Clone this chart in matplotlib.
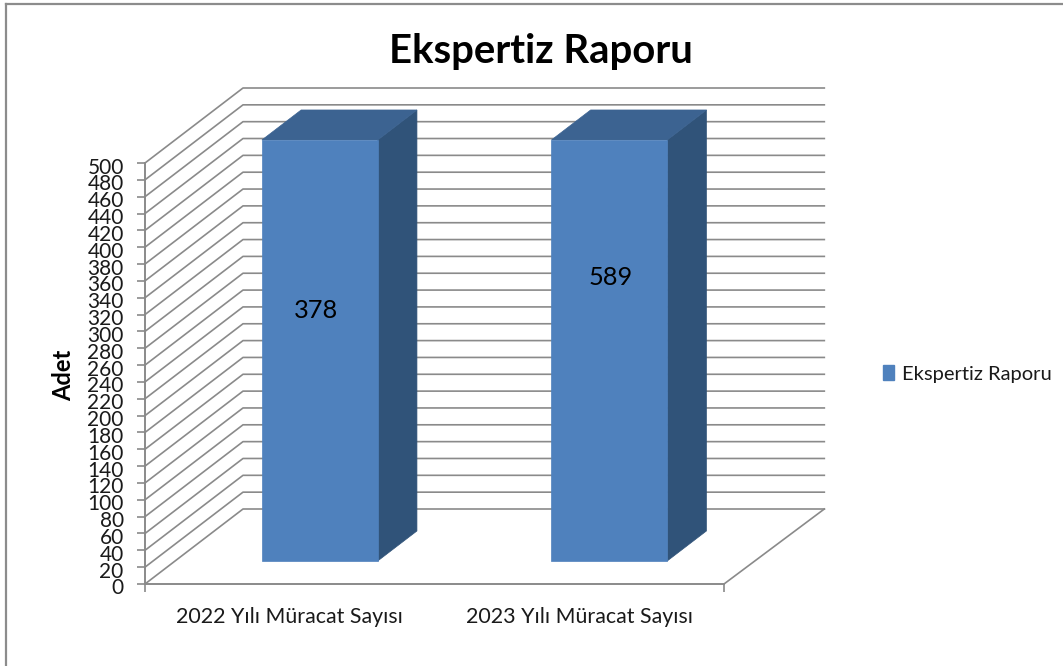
import matplotlib
matplotlib.use('Agg')
import matplotlib.pyplot as plt
from matplotlib.lines import Line2D
from matplotlib.patches import Patch
from matplotlib.transforms import ScaledTranslation

plt.rcParams['font.family'] = ['Lato', 'DejaVu Sans']

categories = ['2022 Yılı Müracat Sayısı', '2023 Yılı Müracat Sayısı']
values = [378, 589]
# both bars are drawn up to the top of the axis in the picture, whatever their label says
bar_heights = [500, 500]
series_name = 'Ekspertiz Raporu'
y_ticks = list(range(0, 501, 20))
y_max = 500

# layout in pixels
W, H = 1063, 666
left, right, top, bottom = 145, 724, 163, 584
grid_color = '#8a8a8a'
front_color = '#4f81bd'
side_color = '#305379'
top_color = '#3c6391'
text_color = '#1a1a1a'

fig = plt.figure(figsize=(W / 100, H / 100), dpi=100)
ax = fig.add_axes([left / W, 1 - bottom / H, (right - left) / W, (bottom - top) / H])
ax.set_xlim(0, len(categories))
ax.set_ylim(0, y_max)
ax.patch.set_alpha(0)

# depth of the 3d box, converted to data units
depth_x = 98 / ((right - left) / len(categories))
depth_y = 75 / ((bottom - top) / y_max)


def proj(x, v, d):
    return x + d * depth_x, v + d * depth_y


# walls, the back wall runs a bit longer than the front edge
xmax = len(categories)
back_end = xmax + 0.008
for v in y_ticks:
    x0, y0 = proj(0, v, 0)
    x1, y1 = proj(0, v, 1)
    x2, y2 = proj(back_end, v, 1)
    ax.plot([x0, x1, x2], [y0, y1, y2], color=grid_color, lw=1.2, clip_on=False, zorder=1)
x0, y0 = proj(xmax, 0, 0)
x1, y1 = proj(back_end, 0, 1)
ax.plot([x0, x1], [y0, y1], color=grid_color, lw=1.2, clip_on=False, zorder=1)

# bars
d0, d1 = 0.307, 0.707
for i, h in enumerate(bar_heights):
    a, b = i + 0.30, i + 0.70
    front = [proj(a, 0, d0), proj(b, 0, d0), proj(b, h, d0), proj(a, h, d0)]
    side = [proj(b, 0, d0), proj(b, 0, d1), proj(b, h, d1), proj(b, h, d0)]
    roof = [proj(a, h, d0), proj(b, h, d0), proj(b, h, d1), proj(a, h, d1)]
    for pts, col in [(side, side_color), (roof, top_color), (front, front_color)]:
        ax.fill(*zip(*pts), color=col, lw=0.5, clip_on=False, zorder=3)

# data labels
label_heights = [298, 337]
label_shift = [-0.014, 0.003]
for i, val in enumerate(values):
    x, y = proj(i + 0.5 + label_shift[i], label_heights[i], d0)
    ax.text(x, y, str(val), ha='center', va='center', fontsize=18.3, color='black', zorder=4)

for s in ['top', 'right']:
    ax.spines[s].set_visible(False)
for s in ['left', 'bottom']:
    ax.spines[s].set_color(grid_color)
    ax.spines[s].set_linewidth(1.4)
    ax.spines[s].set_zorder(2)

ax.set_yticks(y_ticks)
ax.tick_params(axis='y', length=5.8, width=1.2, color=grid_color, labelsize=15,
               labelcolor=text_color, pad=9.5)
# tick numbers sit slightly under their tick
shift = ScaledTranslation(0, -2.5 / 100, fig.dpi_scale_trans)
for lab in ax.get_yticklabels():
    lab.set_transform(lab.get_transform() + shift)
ax.set_xticks([0, xmax])
ax.set_xticklabels([])
ax.set_xticks([i + 0.5 for i in range(len(categories))], categories, minor=True)
ax.tick_params(axis='x', which='major', length=5.8, width=1.2, color=grid_color)
ax.tick_params(axis='x', which='minor', length=0, labelsize=15.4, labelcolor=text_color, pad=16.5)

fig.text(64 / W, 1 - 375 / H, 'Adet', rotation=90, ha='center', va='center',
         fontsize=17, fontweight='bold', color='black')
fig.text(541 / W, 1 - 52 / H, series_name, ha='center', va='center',
         fontsize=28.8, fontweight='bold', color='black')

fig.legend(handles=[Patch(facecolor=front_color, edgecolor=front_color, label=series_name)],
           loc='center left', bbox_to_anchor=(867 / W, 1 - 374 / H), frameon=False,
           fontsize=14.5, labelcolor=text_color, handlelength=0.55, handleheight=0.7,
           handletextpad=0.4, borderpad=0.3)

# outer chart border, only top and left are in the picture
fig.add_artist(Line2D([6 / W, 1], [1 - 3.5 / H, 1 - 3.5 / H], color='#8c8c8c', lw=1.6))
fig.add_artist(Line2D([6 / W, 6 / W], [0, 1 - 3.5 / H], color='#8c8c8c', lw=1.6))

plt.savefig('out.png', dpi=100)
